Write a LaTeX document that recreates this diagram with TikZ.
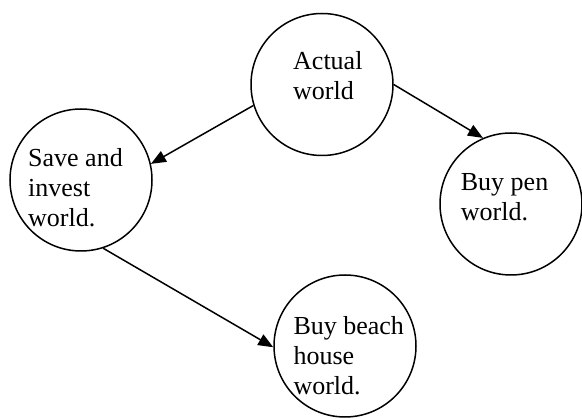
\documentclass[tikz,border=0pt]{standalone}
\usepackage{fontspec}
\setmainfont{Liberation Serif}
\usetikzlibrary{arrows.meta}
\tikzset{
  world/.style={draw, circle, minimum size=142pt, inner sep=0pt, line width=1.5pt},
  txt/.style={anchor=base west, inner sep=0pt, align=left, font=\fontsize{26}{30}\selectfont},
  conn/.style={line width=1.5pt, -{Triangle[length=15pt,width=12pt]}}
}
\begin{document}
\begin{tikzpicture}[x=1pt,y=-1pt]
\useasboundingbox (0,0) rectangle (582,419);
\node[world] (a) at (322,84.5) {};
\node[world] (s) at (81,180) {};
\node[world] (p) at (511,204) {};
\node[world] (b) at (345,346) {};
\node[txt] (ta) at (293,100) {Actual\\world};
\node[txt] (ts) at (28,226.7) {Save and\\invest\\world.};
\node[txt] (tp) at (460.7,220.5) {Buy pen\\world.};
\node[txt] (tb) at (293.3,395) {Buy beach\\house\\world.};
\draw[conn] (a.197) -- (s.13);
\draw[conn] (a.0) -- (p.113);
\draw[conn] (s.288) -- (b.181);
\end{tikzpicture}
\end{document}
